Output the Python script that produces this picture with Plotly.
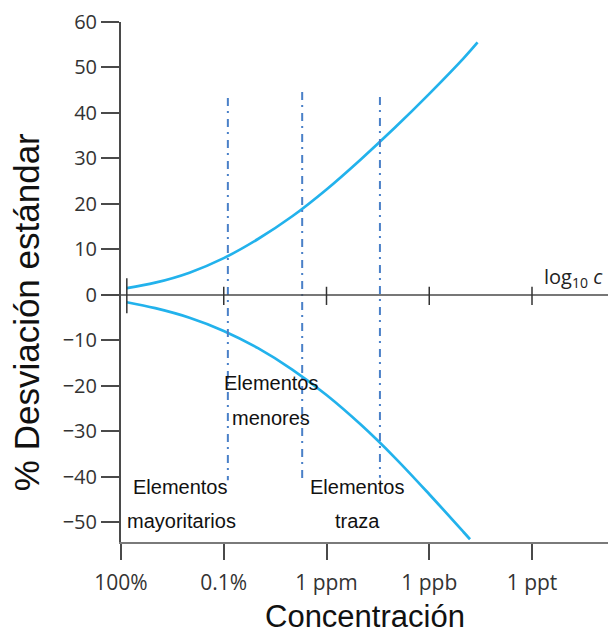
import plotly.graph_objects as go

# ---- data (x in decades below 100 %, i.e. -log10 of mass fraction) ----
tick_decades = [0, 3, 6, 9, 12]
tick_labels = ["100%", "0.1%", "1 ppm", "1 ppb", "1 ppt"]
y_ticks = [-50, -40, -30, -20, -10, 0, 10, 20, 30, 40, 50, 60]

upper_x = [0.17, 1.0, 2.0, 3.0, 4.0, 5.0, 6.0, 7.0, 8.0, 9.0, 10.0, 10.41]
upper_y = [1.5, 2.7, 4.9, 8.1, 12.3, 17.3, 23.2, 29.8, 36.8, 44.2, 52.0, 55.5]

lower_x = [0.17, 1.0, 2.0, 3.0, 4.0, 5.0, 6.0, 7.0, 8.0, 9.0, 10.0, 10.19]
lower_y = [-1.6, -2.9, -5.0, -7.9, -11.7, -16.4, -22.0, -28.5, -35.8, -43.8, -52.1, -53.7]

divider_x = [3.12, 5.29, 7.56]
divider_top = [43.3, 44.6, 43.5]
divider_bottom = [-40.7, -41.1, -40.2]

region_labels = [
    ("Elementos", 1.75, -42.2), ("mayoritarios", 1.77, -49.7),
    ("Elementos", 4.38, -19.4), ("menores", 4.38, -27.0),
    ("Elementos", 6.91, -42.2), ("traza", 6.91, -49.7),
]

X_RANGE = [0, 14.219]
Y_RANGE = [-54.3, 60]

CURVE = "#22b2ec"
DASH = "#4a80c8"
AXIS = "#4a4a4a"
TXT = "#333333"

fig = go.Figure()

for xs, ys in ((upper_x, upper_y), (lower_x, lower_y)):
    fig.add_trace(go.Scatter(x=xs, y=ys, mode="lines",
                             line=dict(color=CURVE, width=2.7, shape="spline", smoothing=1.0),
                             hoverinfo="skip", showlegend=False))

for dx, top, bot in zip(divider_x, divider_top, divider_bottom):
    fig.add_trace(go.Scatter(x=[dx, dx], y=[top, bot], mode="lines",
                             line=dict(color=DASH, width=2, dash="8px,5px,2px,6px"),
                             hoverinfo="skip", showlegend=False))

# horizontal log10 c axis through zero
fig.add_shape(type="line", xref="paper", yref="y", x0=-0.039, x1=1, y0=0, y1=0,
              line=dict(color=AXIS, width=1.5))
mid_ticks = [upper_x[0]] + tick_decades[1:]
for i, tx in enumerate(mid_ticks):
    h_up, h_dn = (3.7, -4.0) if i == 0 else (1.8, -2.2)
    fig.add_shape(type="line", xref="x", yref="y", x0=tx, x1=tx, y0=h_dn, y1=h_up,
                  line=dict(color="#333333", width=1.5))

fig.add_annotation(x=14.13, y=3.9, xref="x", yref="y", xanchor="right", yanchor="middle",
                   text="log<sub>10</sub> <i>c</i>", showarrow=False,
                   font=dict(family="Open Sans", size=20, color="#222222"))

for txt, ax, ay in region_labels:
    fig.add_annotation(x=ax, y=ay, xref="x", yref="y", text=txt, showarrow=False,
                       xanchor="center", yanchor="middle",
                       font=dict(family="Liberation Sans, Arial", size=20, color="#111111"))

# axis titles
fig.add_annotation(x=0.5, y=-0.1808, xref="paper", yref="paper", text="Concentración",
                   showarrow=False, xanchor="center", yanchor="bottom",
                   font=dict(family="Liberation Sans, Arial", size=31, color="#111111"))
fig.add_annotation(x=-0.195, y=0.442, xref="paper", yref="paper", text="% Desviación estándar",
                   showarrow=False, textangle=-90, xanchor="center", yanchor="middle",
                   font=dict(family="Liberation Sans, Arial", size=35, color="#111111"))

fig.update_xaxes(range=X_RANGE, showline=True, linecolor="#7a7a7a", linewidth=2,
                 ticks="outside", ticklen=16, tickwidth=2, tickcolor=AXIS,
                 tickvals=tick_decades, ticktext=tick_labels,
                 tickfont=dict(family="Open Sans", size=21, color=TXT),
                 ticklabelstandoff=5,
                 showgrid=False, zeroline=False, fixedrange=True)
fig.update_yaxes(range=Y_RANGE, showline=True, linecolor=AXIS, linewidth=2,
                 ticks="outside", ticklen=18, tickwidth=2, tickcolor=AXIS,
                 tickvals=y_ticks,
                 tickfont=dict(family="Open Sans", size=20, color=TXT),
                 showgrid=False, zeroline=False, fixedrange=True)

fig.update_layout(width=608, height=636, margin=dict(l=121, r=0, t=22, b=94),
                  paper_bgcolor="white", plot_bgcolor="white", showlegend=False)

fig.write_html("out.html")
